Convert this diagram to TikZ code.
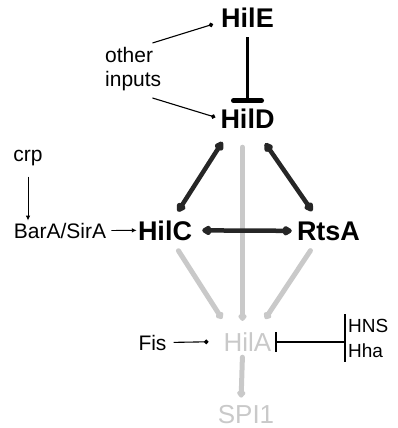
\documentclass[tikz,border=0pt]{standalone}
\usepackage{fontspec}
\setmainfont{Liberation Sans}
\usepackage{tikz}
\usetikzlibrary{fit, positioning, arrows.meta}

\definecolor{darkline}{HTML}{262626}
\definecolor{paleline}{HTML}{C9C9C9}

\begin{document}
\begin{tikzpicture}[x=1pt, y=-1pt,
        gene/.style={font=\fontsize{27}{27}\selectfont\bfseries, inner sep=1pt, anchor=base},
        target/.style={font=\fontsize{26}{26}\selectfont, text=paleline, inner sep=3pt, anchor=base},
        input/.style={font=\fontsize{21}{24}\selectfont, inner sep=0pt, anchor=base},
        silencer/.style={font=\fontsize{19}{19}\selectfont, inner sep=0pt, anchor=base west},
        dotarrow/.style={draw=black, line width=1.1pt, -{Circle[length=4.5pt]}},
        smallarrow/.style={draw=black, line width=0.9pt, -{Latex[length=5pt, width=4.5pt]}},
        mutual/.style={draw=darkline, line width=4.5pt, {Kite[length=12pt, width=11pt, inset=3pt, round]}-{Kite[length=12pt, width=11pt, inset=3pt, round]}},
        paleact/.style={draw=paleline, line width=5pt, line cap=round, -{Kite[length=9pt, width=10pt, inset=3pt, round]}},
        repress/.style={draw=black, line width=2.4pt}]
        \useasboundingbox (0,0) rectangle (397,428);

        \node[gene] (HilE) at (247.5,28) {HilE};
        \node[gene] (HilD) at (247.5,128) {HilD};
        \node[gene] (HilC) at (165,240) {HilC};
        \node[gene] (RtsA) at (328.5,240) {RtsA};
        \node[target] (HilA) at (247.5,351) {HilA};
        \node[target] (SPI1) at (246,423) {SPI1};

        \node[input, align=left, anchor=north west] (Others) at (105,47) {other\\inputs};
        \node[input] (crp) at (28,161) {crp};
        \node[input] (BarA) at (60,238) {BarA/SirA};
        \node[input] (Fis) at (152.5,350) {Fis};
        \node[silencer] (HNS) at (348,332) {HNS};
        \node[silencer] (Hha) at (348,357) {Hha};
        \node (Silencers) [fit=(HNS)(Hha), inner xsep=3pt, inner ysep=4pt] {};

        \path ([shift={(-9pt,4pt)}]Others.north east) edge[dotarrow] ([shift={(-7pt,-6pt)}]HilE.west)
              ([shift={(-9pt,-7pt)}]Others.south east) edge[dotarrow] ([shift={(-4pt,1pt)}]HilD.west)
              (crp.south) edge[smallarrow, shorten <=11pt, shorten >=2pt] (crp.south |- BarA.north)
              (BarA.east) edge[smallarrow, shorten <=5pt] (HilC.west)
              (Fis.east) edge[dotarrow, shorten <=7pt, shorten >=12pt] (HilA.west);

        \path ([xshift=-5pt]HilD.south) edge[paleact, shorten <=18pt, shorten >=8pt] ([xshift=-5pt]HilA.north)
              ([xshift=-5pt]HilA.south) edge[paleact, shorten <=3pt, shorten >=4pt] ([xshift=-5pt]SPI1.north)
              ([xshift=7.5pt]HilC.south) edge[paleact, shorten <=11pt, shorten >=12pt] ([xshift=-19pt]HilA.north)
              ([xshift=-12pt]RtsA.south) edge[paleact, shorten <=11pt, shorten >=12pt] ([xshift=11pt]HilA.north);

        \path ([xshift=-17pt]HilD.south) edge[mutual, shorten <=15pt, shorten >=9pt] ([xshift=8pt]HilC.north)
              ([xshift=8pt]HilD.south) edge[mutual, shorten <=17pt, shorten >=11pt] ([xshift=-10pt]RtsA.north)
              (HilC.east) edge[mutual, shorten <=9pt, shorten >=4pt] (RtsA.west);

        \path (HilE.south) edge[repress, shorten <=8pt, shorten >=4pt, -{Bar[width=28pt, line width=5pt, round]}] (HilD.north)
              ([yshift=-4pt]Silencers.west) edge[repress, -{Bar[width=20pt, line width=2pt]}] ([yshift=-4pt]Silencers.west -| HilA.east);
        \draw[line width=2pt] (Silencers.north west) -- (Silencers.south west);
\end{tikzpicture}
\end{document}
